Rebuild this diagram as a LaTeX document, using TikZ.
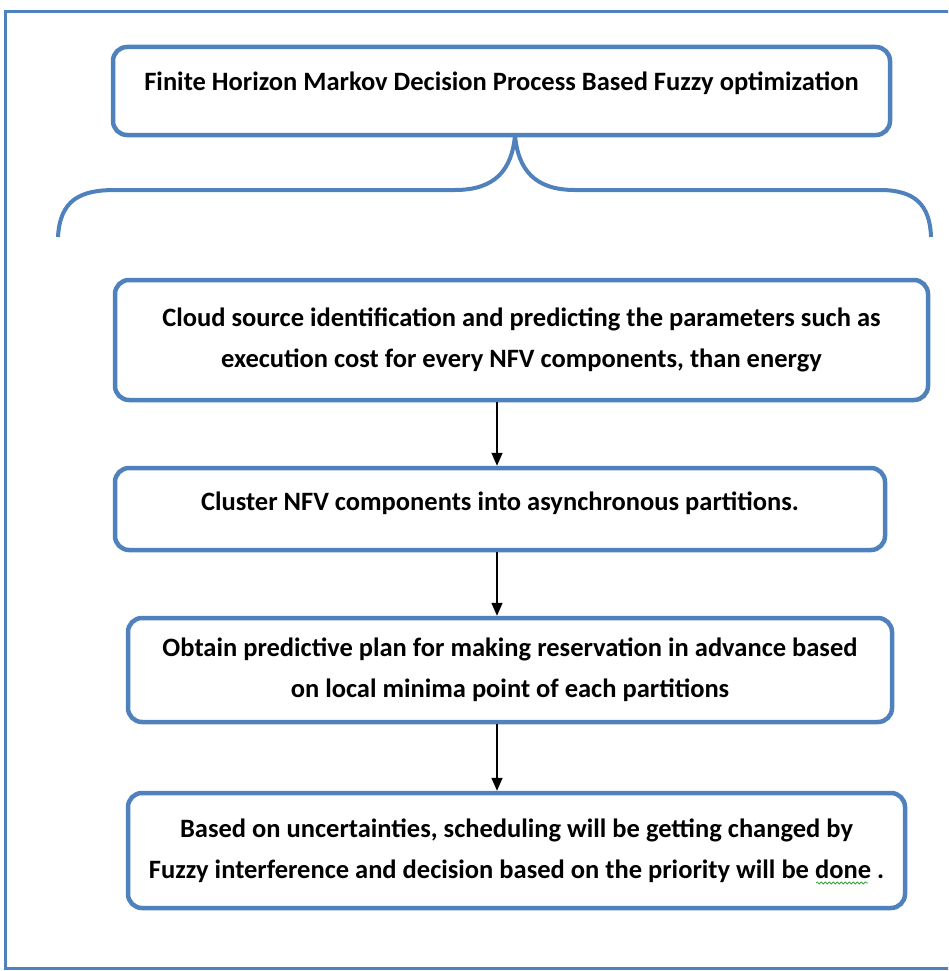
\documentclass[tikz,border=0pt]{standalone}
\usepackage{fontspec}
\setmainfont{Carlito}
\usetikzlibrary{positioning,arrows.meta,decorations.pathmorphing}
\definecolor{frameblue}{HTML}{4F81BD}
\definecolor{spellgreen}{HTML}{3BA83B}
\tikzset{
  stepbox/.style={draw=frameblue, line width=4.5pt, rounded corners=14pt, fill=white,
    align=center, font=\bfseries\fontsize{26.5}{41}\selectfont},
  flow/.style={-{Triangle[length=13pt,width=11pt]}, line width=1.6pt}
}
\begin{document}
\begin{tikzpicture}[x=1pt, y=-1pt]
  \useasboundingbox (0,0) rectangle (948,971);
  \clip (0,0) rectangle (948,971);
  % Outer frame
  \draw[frameblue, line width=3pt] (960,12) -- (5,12) -- (5,968) -- (960,968);

  % Title box
  \node[stepbox, minimum width=777pt, minimum height=88pt, text depth=20pt] (mdp) at (501.5,91)
    {Finite Horizon Markov Decision Process Based Fuzzy optimization};

  % Brace
  \draw[frameblue, line width=4pt] (58,237) .. controls (60,200) and (80,190) .. (115,190)
    -- (455,190) .. controls (495,190) and (512,170) .. (515,135)
    .. controls (518,170) and (535,190) .. (575,190) -- (880,190)
    .. controls (915,190) and (930,205) .. (931,237);

  % Steps
  \node[stepbox, minimum width=813pt, minimum height=120pt] (cloud) at (521.5,340)
    {Cloud source identification and predicting the parameters such as\\
     execution cost for every NFV components, than energy};
  \node[stepbox, minimum width=770pt, minimum height=82pt, text depth=16pt] (cluster) at (500,509)
    {Cluster NFV components into asynchronous partitions.};
  \node[stepbox, minimum width=764pt, minimum height=104pt] (plan) at (510,670)
    {Obtain predictive plan for making reservation in advance based\\
     on local minima point of each partitions};
  \node[stepbox, minimum width=777pt, minimum height=115pt] (fuzzy) at (516.5,850.5)
    {Based on uncertainties, scheduling will be getting changed by\\
     Fuzzy interference and decision based on the priority will be done .};

  % Arrows
  \coordinate (axis) at (497,0);
  \draw[flow] (cloud.south -| axis) -- (cluster.north -| axis);
  \draw[flow] (cluster.south -| axis) -- (plan.north -| axis);
  \draw[flow] (plan.south -| axis) -- (fuzzy.north -| axis);

  % Spelling mark under "done"
  \draw[spellgreen, line width=0.8pt, decorate,
    decoration={snake, amplitude=1pt, segment length=4pt}] (816,883) -- (868,883);
\end{tikzpicture}
\end{document}
